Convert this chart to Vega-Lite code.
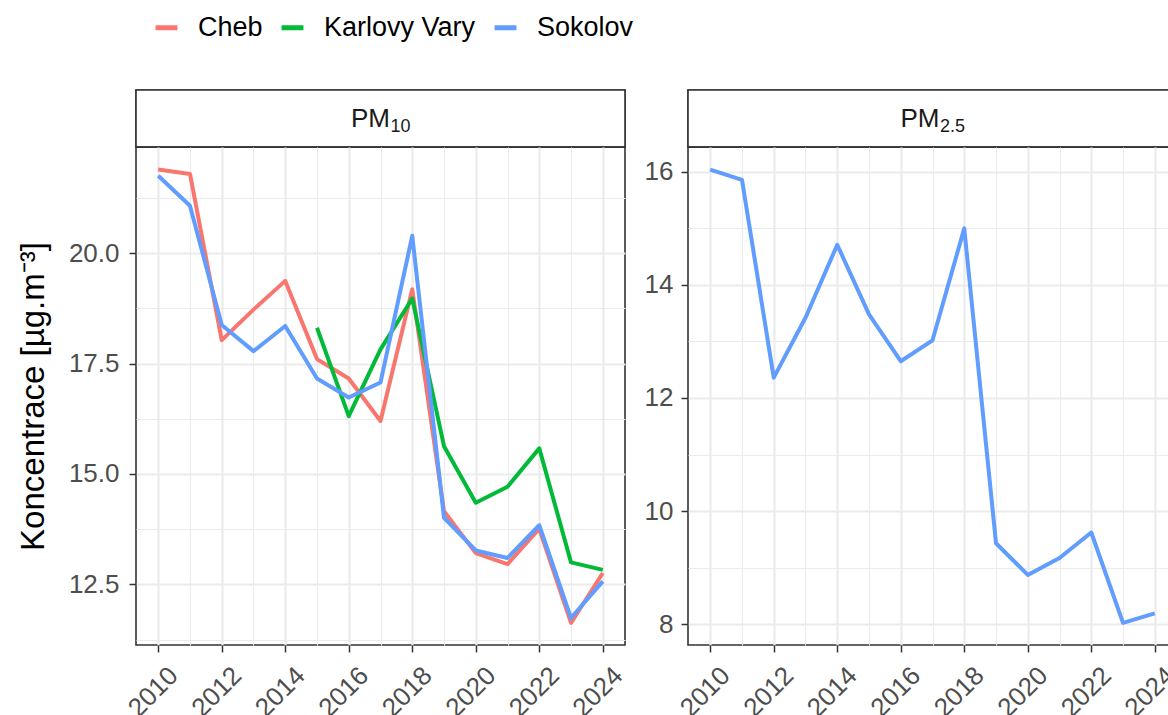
{
  "$schema": "https://vega.github.io/schema/vega-lite/v6.json",
  "background": "white",
  "padding": {"left": 16, "top": 14, "right": 0, "bottom": 0},
  "data": {"values": [
    {"year": 2010, "site": "Cheb", "pm": "PM10", "value": 21.89},
    {"year": 2011, "site": "Cheb", "pm": "PM10", "value": 21.79},
    {"year": 2012, "site": "Cheb", "pm": "PM10", "value": 18.03},
    {"year": 2013, "site": "Cheb", "pm": "PM10", "value": 18.72},
    {"year": 2014, "site": "Cheb", "pm": "PM10", "value": 19.37},
    {"year": 2015, "site": "Cheb", "pm": "PM10", "value": 17.60},
    {"year": 2016, "site": "Cheb", "pm": "PM10", "value": 17.16},
    {"year": 2017, "site": "Cheb", "pm": "PM10", "value": 16.20},
    {"year": 2018, "site": "Cheb", "pm": "PM10", "value": 19.18},
    {"year": 2019, "site": "Cheb", "pm": "PM10", "value": 14.16},
    {"year": 2020, "site": "Cheb", "pm": "PM10", "value": 13.21},
    {"year": 2021, "site": "Cheb", "pm": "PM10", "value": 12.96},
    {"year": 2022, "site": "Cheb", "pm": "PM10", "value": 13.76},
    {"year": 2023, "site": "Cheb", "pm": "PM10", "value": 11.63},
    {"year": 2024, "site": "Cheb", "pm": "PM10", "value": 12.76},
    {"year": 2015, "site": "Karlovy Vary", "pm": "PM10", "value": 18.31},
    {"year": 2016, "site": "Karlovy Vary", "pm": "PM10", "value": 16.31},
    {"year": 2017, "site": "Karlovy Vary", "pm": "PM10", "value": 17.82},
    {"year": 2018, "site": "Karlovy Vary", "pm": "PM10", "value": 18.97},
    {"year": 2019, "site": "Karlovy Vary", "pm": "PM10", "value": 15.63},
    {"year": 2020, "site": "Karlovy Vary", "pm": "PM10", "value": 14.35},
    {"year": 2021, "site": "Karlovy Vary", "pm": "PM10", "value": 14.71},
    {"year": 2022, "site": "Karlovy Vary", "pm": "PM10", "value": 15.58},
    {"year": 2023, "site": "Karlovy Vary", "pm": "PM10", "value": 13.00},
    {"year": 2024, "site": "Karlovy Vary", "pm": "PM10", "value": 12.83},
    {"year": 2010, "site": "Sokolov", "pm": "PM10", "value": 21.75},
    {"year": 2011, "site": "Sokolov", "pm": "PM10", "value": 21.07},
    {"year": 2012, "site": "Sokolov", "pm": "PM10", "value": 18.37},
    {"year": 2013, "site": "Sokolov", "pm": "PM10", "value": 17.78},
    {"year": 2014, "site": "Sokolov", "pm": "PM10", "value": 18.35},
    {"year": 2015, "site": "Sokolov", "pm": "PM10", "value": 17.16},
    {"year": 2016, "site": "Sokolov", "pm": "PM10", "value": 16.73},
    {"year": 2017, "site": "Sokolov", "pm": "PM10", "value": 17.07},
    {"year": 2018, "site": "Sokolov", "pm": "PM10", "value": 20.39},
    {"year": 2019, "site": "Sokolov", "pm": "PM10", "value": 14.01},
    {"year": 2020, "site": "Sokolov", "pm": "PM10", "value": 13.27},
    {"year": 2021, "site": "Sokolov", "pm": "PM10", "value": 13.10},
    {"year": 2022, "site": "Sokolov", "pm": "PM10", "value": 13.84},
    {"year": 2023, "site": "Sokolov", "pm": "PM10", "value": 11.74},
    {"year": 2024, "site": "Sokolov", "pm": "PM10", "value": 12.57},
    {"year": 2010, "site": "Sokolov", "pm": "PM2.5", "value": 16.04},
    {"year": 2011, "site": "Sokolov", "pm": "PM2.5", "value": 15.86},
    {"year": 2012, "site": "Sokolov", "pm": "PM2.5", "value": 12.36},
    {"year": 2013, "site": "Sokolov", "pm": "PM2.5", "value": 13.42},
    {"year": 2014, "site": "Sokolov", "pm": "PM2.5", "value": 14.71},
    {"year": 2015, "site": "Sokolov", "pm": "PM2.5", "value": 13.48},
    {"year": 2016, "site": "Sokolov", "pm": "PM2.5", "value": 12.65},
    {"year": 2017, "site": "Sokolov", "pm": "PM2.5", "value": 13.02},
    {"year": 2018, "site": "Sokolov", "pm": "PM2.5", "value": 15.00},
    {"year": 2019, "site": "Sokolov", "pm": "PM2.5", "value": 9.43},
    {"year": 2020, "site": "Sokolov", "pm": "PM2.5", "value": 8.87},
    {"year": 2021, "site": "Sokolov", "pm": "PM2.5", "value": 9.17},
    {"year": 2022, "site": "Sokolov", "pm": "PM2.5", "value": 9.62},
    {"year": 2023, "site": "Sokolov", "pm": "PM2.5", "value": 8.02},
    {"year": 2024, "site": "Sokolov", "pm": "PM2.5", "value": 8.19}
  ]},
  "config": {
    "font": "Liberation Sans",
    "view": {"stroke": "#333333", "strokeWidth": 1.6},
    "axis": {
      "domain": false,
      "tickColor": "#333333",
      "tickSize": 7,
      "tickWidth": 1.5,
      "labelColor": "#4d4d4d",
      "labelFontSize": 26,
      "labelFont": "Liberation Sans",
      "labelPadding": 7,
      "gridColor": "#ebebeb",
      "titleFont": "Liberation Sans",
      "titleFontWeight": "normal",
      "titleColor": "black"
    }
  },
  "spacing": 15,
  "hconcat": [
    {
      "spacing": 0,
      "bounds": "flush",
      "vconcat": [
        {
          "width": 489,
          "height": 57,
          "data": {"values": [{"main": "PM", "sub": "10"}]},
          "view": {"stroke": "#333333", "strokeWidth": 1.6},
          "layer": [
            {"mark": {"type": "rect", "fill": "white", "stroke": "#333333", "strokeWidth": 1.6}, "encoding": {}},
            {"mark": {"type": "text", "fontSize": 26, "color": "#1a1a1a", "align": "right", "baseline": "alphabetic", "dx": 9.5, "dy": 8}, "encoding": {"text": {"field": "main", "type": "nominal"}}},
            {"mark": {"type": "text", "fontSize": 18, "color": "#1a1a1a", "align": "left", "baseline": "alphabetic", "dx": 10, "dy": 13}, "encoding": {"text": {"field": "sub", "type": "nominal"}}}
          ]
        },
        {
          "width": 489,
          "height": 498,
          "transform": [{"filter": "datum.pm == 'PM10'"}],
          "mark": {"type": "line", "strokeWidth": 4, "strokeJoin": "round", "strokeCap": "butt", "clip": true},
          "encoding": {
            "x": {
              "field": "year", "type": "quantitative",
              "scale": {"domain": [2009.3, 2024.7], "nice": false, "zero": false},
              "axis": {
                "title": null,
                "values": [2010, 2011, 2012, 2013, 2014, 2015, 2016, 2017, 2018, 2019, 2020, 2021, 2022, 2023, 2024],
                "format": "d",
                "labelExpr": "datum.value % 2 == 0 ? datum.label : ''",
                "labelAngle": -45,
                "labelAlign": "right",
                "labelBaseline": "top",
                "labelOffset": 6,
                "labelPadding": 10,
                "tickOpacity": {"condition": {"test": "datum.value % 2 == 0", "value": 1}, "value": 0},
                "gridWidth": {"condition": {"test": "datum.value % 2 == 0", "value": 2.2}, "value": 1.1}
              }
            },
            "y": {
              "field": "value", "type": "quantitative",
              "scale": {"domain": [11.13, 22.4], "nice": false, "zero": false},
              "axis": {
                "title": "Koncentrace [µg.m⁻³]",
                "titleFontSize": 33,
                "titlePadding": 18,
                "labelPadding": 10,
                "values": [11.25, 12.5, 13.75, 15, 16.25, 17.5, 18.75, 20, 21.25],
                "labelExpr": "datum.value % 2.5 == 0 ? format(datum.value, '.1f') : ''",
                "tickOpacity": {"condition": {"test": "datum.value % 2.5 == 0", "value": 1}, "value": 0},
                "gridWidth": {"condition": {"test": "datum.value % 2.5 == 0", "value": 2.2}, "value": 1.1}
              }
            },
            "color": {
              "field": "site", "type": "nominal",
              "scale": {"domain": ["Cheb", "Karlovy Vary", "Sokolov"], "range": ["#F8766D", "#00BA38", "#619CFF"]},
              "legend": {
                "title": null,
                "orient": "none",
                "legendX": 17,
                "legendY": -76,
                "direction": "horizontal",
                "symbolType": "stroke",
                "symbolStrokeWidth": 5,
                "symbolSize": 480,
                "labelFontSize": 27,
                "labelColor": "black",
                "labelFont": "Liberation Sans",
                "labelOffset": 18,
                "columnPadding": 8
              }
            }
          }
        }
      ]
    },
    {
      "spacing": 0,
      "bounds": "flush",
      "vconcat": [
        {
          "width": 489,
          "height": 57,
          "data": {"values": [{"main": "PM", "sub": "2.5"}]},
          "view": {"stroke": "#333333", "strokeWidth": 1.6},
          "layer": [
            {"mark": {"type": "rect", "fill": "white", "stroke": "#333333", "strokeWidth": 1.6}, "encoding": {}},
            {"mark": {"type": "text", "fontSize": 26, "color": "#1a1a1a", "align": "right", "baseline": "alphabetic", "dx": 7, "dy": 8}, "encoding": {"text": {"field": "main", "type": "nominal"}}},
            {"mark": {"type": "text", "fontSize": 18, "color": "#1a1a1a", "align": "left", "baseline": "alphabetic", "dx": 7.5, "dy": 13}, "encoding": {"text": {"field": "sub", "type": "nominal"}}}
          ]
        },
        {
          "width": 489,
          "height": 498,
          "transform": [{"filter": "datum.pm == 'PM2.5'"}],
          "mark": {"type": "line", "strokeWidth": 4, "strokeJoin": "round", "strokeCap": "butt", "clip": true},
          "encoding": {
            "x": {
              "field": "year", "type": "quantitative",
              "scale": {"domain": [2009.3, 2024.7], "nice": false, "zero": false},
              "axis": {
                "title": null,
                "values": [2010, 2011, 2012, 2013, 2014, 2015, 2016, 2017, 2018, 2019, 2020, 2021, 2022, 2023, 2024],
                "format": "d",
                "labelExpr": "datum.value % 2 == 0 ? datum.label : ''",
                "labelAngle": -45,
                "labelAlign": "right",
                "labelBaseline": "top",
                "labelOffset": 6,
                "labelPadding": 10,
                "tickOpacity": {"condition": {"test": "datum.value % 2 == 0", "value": 1}, "value": 0},
                "gridWidth": {"condition": {"test": "datum.value % 2 == 0", "value": 2.2}, "value": 1.1}
              }
            },
            "y": {
              "field": "value", "type": "quantitative",
              "scale": {"domain": [7.63, 16.44], "nice": false, "zero": false},
              "axis": {
                "title": null,
                "labelPadding": 8,
                "values": [8, 9, 10, 11, 12, 13, 14, 15, 16],
                "labelExpr": "datum.value % 2 == 0 ? format(datum.value, 'd') : ''",
                "tickOpacity": {"condition": {"test": "datum.value % 2 == 0", "value": 1}, "value": 0},
                "gridWidth": {"condition": {"test": "datum.value % 2 == 0", "value": 2.2}, "value": 1.1}
              }
            },
            "color": {
              "field": "site", "type": "nominal",
              "scale": {"domain": ["Cheb", "Karlovy Vary", "Sokolov"], "range": ["#F8766D", "#00BA38", "#619CFF"]},
              "legend": null
            }
          }
        }
      ]
    }
  ]
}
